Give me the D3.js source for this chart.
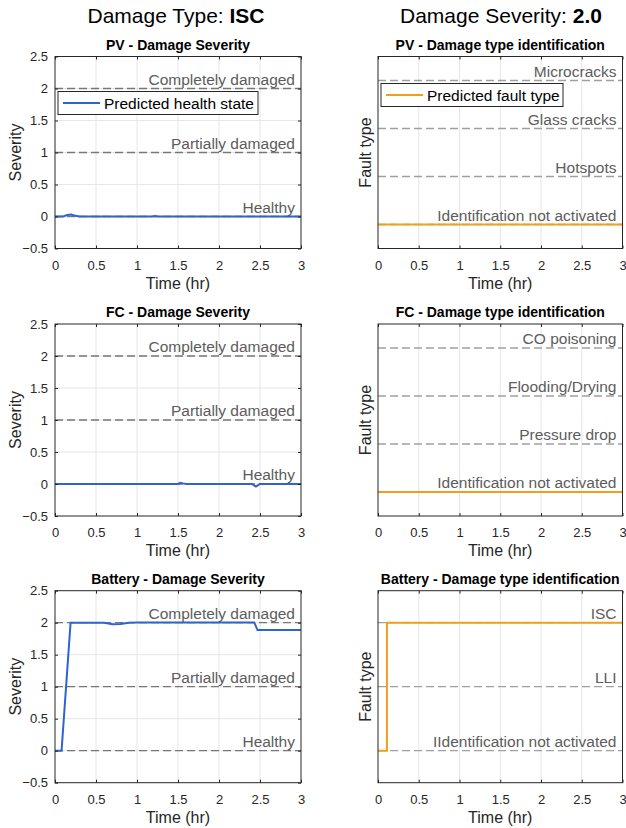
<!DOCTYPE html>
<html>
<head>
<meta charset="utf-8">
<script src="https://cdn.jsdelivr.net/npm/d3@7"></script>
<style>
  body { margin: 0; background: #fff; }
  svg { font-family: "Liberation Sans", Arial, sans-serif; }
  .tick text { font-size: 13px; fill: #262626; }
  .tick line { stroke: #262626; }
  .domain { display: none; }
</style>
</head>
<body>
<script>
// time axis
const timeTicks = [0, 0.5, 1, 1.5, 2, 2.5, 3];
const severityTicks = [-0.5, 0, 0.5, 1, 1.5, 2, 2.5];

// reference levels
const severityNames = ['Healthy', 'Partially damaged', 'Completely damaged'];
const pvTypes = ['Identification not activated', 'Hotspots', 'Glass cracks', 'Microcracks'];
const fcTypes = ['Identification not activated', 'Pressure drop', 'Flooding/Drying', 'CO poisoning'];
const batTypes = ['IIdentification not activated', 'LLI', 'ISC'];

// predicted severity
const pvSevT = [0, 0.1, 0.15, 0.2, 0.25, 0.3, 1.18, 1.22, 1.26, 3];
const pvSevV = [0, 0, 0.025, 0.03, 0.01, 0, 0, 0.006, 0, 0];
const fcSevT = [0, 1.5, 1.53, 1.56, 1.6, 2.4, 2.45, 2.5, 3];
const fcSevV = [0, 0, 0.02, 0.01, 0, 0, -0.04, 0, 0];
const batSevT = [0, 0.08, 0.19, 0.6, 0.7, 0.8, 0.9, 1.0, 2.43, 2.47, 3];
const batSevV = [0, 0, 2, 2, 1.975, 1.98, 2, 2.005, 2.005, 1.885, 1.885];

// predicted fault type (index into type list)
const pvTypeT = [0, 3];
const pvTypeV = [0, 0];
const fcTypeT = [0, 3];
const fcTypeV = [0, 0];
const batTypeT = [0, 0.11, 0.11, 3];
const batTypeV = [0, 0, 2, 2];

const blue = '#2f63cf';
const orange = '#f2a01c';

const svg = d3.select('body').append('svg')
  .attr('width', 626)
  .attr('height', 828);

const cols = [[55, 301], [378, 622.5]];
const rowTops = [56.5, 324, 590.7];
const plotH = 192;

svg.append('text')
  .attr('x', 176).attr('y', 23)
  .attr('text-anchor', 'middle')
  .style('font-size', '21px')
  .html('Damage Type: <tspan font-weight="bold">ISC</tspan>');
svg.append('text')
  .attr('x', 501).attr('y', 23)
  .attr('text-anchor', 'middle')
  .style('font-size', '21px')
  .html('Damage Severity: <tspan font-weight="bold">2.0</tspan>');

function drawPanel(row, col, o) {
  const [x0, x1] = cols[col];
  const y0 = rowTops[row];
  const g = svg.append('g');
  const x = d3.scaleLinear().domain([0, 3]).range([x0, x1]);
  const y = d3.scaleLinear().domain(o.domain).range([y0 + plotH, y0]);

  // grid
  g.selectAll('.vg').data(timeTicks.slice(1, -1)).enter().append('line')
    .attr('x1', d => x(d)).attr('x2', d => x(d))
    .attr('y1', y0).attr('y2', y0 + plotH)
    .attr('stroke', '#e6e6e6');
  if (o.yTicks) {
    g.selectAll('.hg').data(o.yTicks.slice(1, -1)).enter().append('line')
      .attr('x1', x0).attr('x2', x1)
      .attr('y1', d => y(d)).attr('y2', d => y(d))
      .attr('stroke', '#e6e6e6');
  }

  // reference levels
  o.names.forEach((name, i) => {
    g.append('line')
      .attr('x1', x0).attr('x2', x1)
      .attr('y1', y(i)).attr('y2', y(i))
      .attr('stroke', o.refColor)
      .attr('stroke-width', 1.3)
      .attr('stroke-dasharray', '8,4');
    g.append('text')
      .attr('x', x1 - 6).attr('y', y(i) - 4)
      .attr('text-anchor', 'end')
      .attr('fill', '#5c5c5c')
      .style('font-size', '15.5px')
      .text(name);
  });

  // data line
  const pts = o.t.map((t, i) => [t, o.v[i]]);
  g.append('path')
    .datum(pts)
    .attr('fill', 'none')
    .attr('stroke', o.color)
    .attr('stroke-width', 2)
    .attr('d', d3.line().x(d => x(d[0])).y(d => y(d[1])));

  // axes
  g.append('g')
    .attr('transform', `translate(0,${y0 + plotH})`)
    .call(d3.axisBottom(x).tickValues(timeTicks).tickSize(-3).tickPadding(12)
      .tickFormat(d3.format('')));
  g.append('g')
    .attr('transform', `translate(0,${y0})`)
    .call(d3.axisTop(x).tickValues(timeTicks).tickSize(-3).tickFormat(''));
  if (o.yTicks) {
    g.append('g')
      .attr('transform', `translate(${x0},0)`)
      .call(d3.axisLeft(y).tickValues(o.yTicks).tickSize(-3).tickPadding(7)
        .tickFormat(d3.format('')));
    g.append('g')
      .attr('transform', `translate(${x1},0)`)
      .call(d3.axisRight(y).tickValues(o.yTicks).tickSize(-3).tickFormat(''));
  }

  g.append('rect')
    .attr('x', x0).attr('y', y0)
    .attr('width', x1 - x0).attr('height', plotH)
    .attr('fill', 'none')
    .attr('stroke', '#262626');

  // title and labels
  g.append('text')
    .attr('x', (x0 + x1) / 2).attr('y', y0 - 7)
    .attr('text-anchor', 'middle')
    .style('font-size', '14px').style('font-weight', 'bold')
    .text(o.title);
  g.append('text')
    .attr('x', (x0 + x1) / 2).attr('y', y0 + plotH + 40)
    .attr('text-anchor', 'middle')
    .style('font-size', '16px')
    .attr('fill', '#262626')
    .text('Time (hr)');
  g.append('text')
    .attr('transform', `translate(${o.ylabelX},${y0 + plotH / 2}) rotate(-90)`)
    .attr('text-anchor', 'middle')
    .style('font-size', '16px')
    .attr('fill', '#262626')
    .text(o.ylabel);

  if (o.legend) {
    const l = o.legend;
    g.append('rect')
      .attr('x', l.x).attr('y', l.y).attr('width', l.w).attr('height', 23)
      .attr('fill', '#fff').attr('stroke', '#262626');
    g.append('line')
      .attr('x1', l.x + 5).attr('x2', l.x + 42)
      .attr('y1', l.y + 11.5).attr('y2', l.y + 11.5)
      .attr('stroke', o.color).attr('stroke-width', 2);
    g.append('text')
      .attr('x', l.x + 46).attr('y', l.y + 17)
      .style('font-size', '15.5px')
      .attr('fill', '#000')
      .text(l.text);
  }
}

const sevDomain = [-0.5, 2.5];

drawPanel(0, 0, { title: 'PV - Damage Severity', domain: sevDomain, yTicks: severityTicks,
  names: severityNames, refColor: '#777', t: pvSevT, v: pvSevV, color: blue,
  ylabel: 'Severity', ylabelX: 21,
  legend: { x: 58, y: 91.5, w: 200, text: 'Predicted health state' } });
drawPanel(1, 0, { title: 'FC - Damage Severity', domain: sevDomain, yTicks: severityTicks,
  names: severityNames, refColor: '#777', t: fcSevT, v: fcSevV, color: blue,
  ylabel: 'Severity', ylabelX: 21 });
drawPanel(2, 0, { title: 'Battery - Damage Severity', domain: sevDomain, yTicks: severityTicks,
  names: severityNames, refColor: '#777', t: batSevT, v: batSevV, color: blue,
  ylabel: 'Severity', ylabelX: 21 });

drawPanel(0, 1, { title: 'PV - Damage type identification', domain: [-0.5, pvTypes.length - 0.5],
  names: pvTypes, refColor: '#a0a0a0', t: pvTypeT, v: pvTypeV, color: orange,
  ylabel: 'Fault type', ylabelX: 371,
  legend: { x: 381, y: 83.5, w: 182, text: 'Predicted fault type' } });
drawPanel(1, 1, { title: 'FC - Damage type identification', domain: [-0.5, fcTypes.length - 0.5],
  names: fcTypes, refColor: '#a0a0a0', t: fcTypeT, v: fcTypeV, color: orange,
  ylabel: 'Fault type', ylabelX: 371 });
drawPanel(2, 1, { title: 'Battery - Damage type identification', domain: [-0.5, batTypes.length - 0.5],
  names: batTypes, refColor: '#a0a0a0', t: batTypeT, v: batTypeV, color: orange,
  ylabel: 'Fault type', ylabelX: 371 });
</script>
</body>
</html>
